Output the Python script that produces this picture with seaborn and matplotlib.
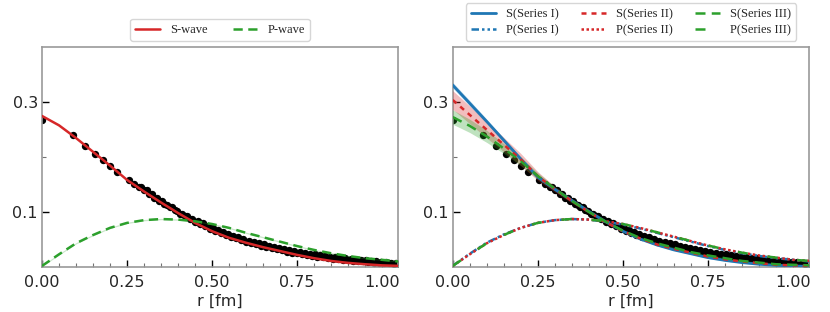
import numpy as np
import pandas as pd
import matplotlib
matplotlib.use("Agg")
import matplotlib.pyplot as plt
import seaborn as sns
from matplotlib.ticker import MultipleLocator, FormatStrFormatter, FixedLocator

# ---------------- data ----------------
r_grid = [0.00, 0.05, 0.10, 0.15, 0.20, 0.25, 0.30, 0.35, 0.40, 0.45, 0.50,
          0.55, 0.60, 0.65, 0.70, 0.75, 0.80, 0.85, 0.90, 0.95, 1.00, 1.05]

# left panel
s_wave = [0.274, 0.257, 0.234, 0.209, 0.184, 0.158, 0.137, 0.117, 0.098, 0.080, 0.065,
          0.053, 0.044, 0.036, 0.029, 0.022, 0.016, 0.011, 0.0075, 0.005, 0.003, 0.002]
p_wave = [0.002, 0.023, 0.043, 0.058, 0.071, 0.080, 0.085, 0.087, 0.086, 0.083, 0.078,
          0.071, 0.062, 0.054, 0.046, 0.038, 0.031, 0.025, 0.020, 0.016, 0.013, 0.010]

# right panel, S-wave
s_series1 = [0.330, 0.297, 0.264, 0.230, 0.196, 0.163, 0.141, 0.121, 0.101, 0.082, 0.065,
             0.051, 0.040, 0.031, 0.024, 0.017, 0.012, 0.008, 0.005, 0.003, 0.002, 0.001]
s_series1_err = [0.005, 0.005, 0.004, 0.004, 0.003, 0.003, 0.002, 0.002, 0.002, 0.001, 0.001,
                 0.001, 0.001, 0.001, 0.001, 0.001, 0.001, 0.001, 0.001, 0.001, 0.001, 0.001]
s_series2 = [0.303, 0.276, 0.249, 0.222, 0.195, 0.165, 0.141, 0.120, 0.100, 0.081, 0.065,
             0.052, 0.041, 0.033, 0.026, 0.019, 0.014, 0.010, 0.007, 0.004, 0.003, 0.002]
s_series2_err = [0.017, 0.016, 0.015, 0.013, 0.011, 0.008, 0.005, 0.004, 0.003, 0.002, 0.002,
                 0.001, 0.001, 0.001, 0.001, 0.001, 0.001, 0.001, 0.001, 0.001, 0.001, 0.001]
s_series3 = [0.272, 0.256, 0.237, 0.215, 0.192, 0.165, 0.142, 0.120, 0.100, 0.082, 0.066,
             0.053, 0.043, 0.035, 0.027, 0.021, 0.016, 0.011, 0.008, 0.005, 0.004, 0.003]
s_series3_err = [0.013, 0.012, 0.011, 0.009, 0.008, 0.006, 0.004, 0.003, 0.002, 0.002, 0.001,
                 0.001, 0.001, 0.001, 0.001, 0.001, 0.001, 0.001, 0.001, 0.001, 0.001, 0.001]

# right panel, P-wave
p_series1 = [0.002, 0.024, 0.044, 0.059, 0.071, 0.080, 0.085, 0.087, 0.086, 0.082, 0.077,
             0.070, 0.062, 0.054, 0.046, 0.038, 0.031, 0.025, 0.020, 0.016, 0.013, 0.010]
p_series2 = [0.002, 0.023, 0.043, 0.058, 0.071, 0.080, 0.085, 0.087, 0.086, 0.083, 0.078,
             0.071, 0.063, 0.055, 0.047, 0.039, 0.032, 0.026, 0.021, 0.017, 0.013, 0.011]
p_series3 = [0.002, 0.023, 0.043, 0.058, 0.071, 0.080, 0.085, 0.087, 0.086, 0.083, 0.078,
             0.071, 0.063, 0.055, 0.047, 0.039, 0.032, 0.026, 0.021, 0.017, 0.013, 0.011]

# lattice data points (first set)
r_points = [0.000, 0.090, 0.127, 0.156, 0.180, 0.201, 0.220, 0.255, 0.270,
            0.285, 0.300, 0.315, 0.330, 0.345, 0.360, 0.375, 0.390, 0.405, 0.420,
            0.435, 0.450, 0.465, 0.480, 0.495, 0.510, 0.525, 0.540, 0.555, 0.570,
            0.585, 0.600, 0.615, 0.630, 0.645, 0.660, 0.675, 0.690, 0.705, 0.720,
            0.735, 0.750, 0.765, 0.780, 0.795, 0.810, 0.825, 0.840, 0.855, 0.870,
            0.885, 0.900, 0.915, 0.930, 0.945, 0.960, 0.975, 0.990, 1.005, 1.020,
            1.035, 1.050]
y_points = [0.267, 0.240, 0.220, 0.205, 0.195, 0.183, 0.173, 0.157, 0.151,
            0.146, 0.140, 0.133, 0.126, 0.120, 0.114, 0.108, 0.103, 0.097, 0.092,
            0.087, 0.082, 0.078, 0.074, 0.069, 0.066, 0.062, 0.058, 0.055, 0.052,
            0.049, 0.046, 0.044, 0.041, 0.039, 0.036, 0.034, 0.032, 0.030, 0.028,
            0.026, 0.025, 0.023, 0.022, 0.020, 0.019, 0.018, 0.016, 0.015, 0.014,
            0.013, 0.012, 0.011, 0.010, 0.010, 0.009, 0.008, 0.008, 0.007, 0.007,
            0.006, 0.006]
# lattice data points (second set, off-axis directions)
r_points_b = [0.2925, 0.3075, 0.3225, 0.3375, 0.3525, 0.3675, 0.3825, 0.3975, 0.4125, 0.4275,
              0.4425, 0.4575, 0.4725, 0.4875, 0.5025, 0.5175, 0.5325, 0.5475, 0.5625, 0.5775,
              0.5925, 0.6075, 0.6225, 0.6375, 0.6525, 0.6675, 0.6825, 0.6975, 0.7125, 0.7275,
              0.7425, 0.7575, 0.7725, 0.7875, 0.8025, 0.8175, 0.8325, 0.8475, 0.8625, 0.8775,
              0.8925, 0.9075, 0.9225, 0.9375, 0.9525, 0.9675, 0.9825, 0.9975, 1.0125, 1.0275,
              1.0425]
y_points_b = [0.145, 0.139, 0.132, 0.125, 0.119, 0.113, 0.108, 0.102, 0.097, 0.092,
              0.087, 0.083, 0.079, 0.075, 0.071, 0.067, 0.064, 0.060, 0.057, 0.054,
              0.051, 0.048, 0.046, 0.043, 0.041, 0.039, 0.036, 0.034, 0.032, 0.030,
              0.029, 0.027, 0.026, 0.024, 0.023, 0.021, 0.020, 0.019, 0.018, 0.017,
              0.016, 0.014, 0.013, 0.012, 0.012, 0.011, 0.010, 0.009, 0.009, 0.008,
              0.008]

x_ticks = [0.00, 0.25, 0.50, 0.75, 1.00]
y_ticks = [0.1, 0.3]
x_label = "r [fm]"

# ---------------- style ----------------
sns.set_theme(style="ticks")
plt.rcParams["font.family"] = ["DejaVu Sans"]

BLUE, RED, GREEN = "#1f77b4", "#d62728", "#2ca02c"

fig = plt.figure(figsize=(8.3, 3.12), dpi=100)
axL = fig.add_axes([42 / 830, 45 / 312, 356 / 830, 220.5 / 312])
axR = fig.add_axes([452.7 / 830, 45 / 312, 356.3 / 830, 220.5 / 312])

dots = pd.DataFrame({"r": r_points + r_points_b, "y": y_points + y_points_b})


def draw_dots(ax):
    sns.scatterplot(data=dots, x="r", y="y", ax=ax, color="black", s=28,
                    edgecolor="black", linewidth=0, zorder=2, legend=False)


# ---- left panel ----
draw_dots(axL)
axL.fill_between(r_grid, np.array(p_wave) - 0.0012, np.array(p_wave) + 0.0012,
                 color=GREEN, alpha=0.25, lw=0, zorder=3)
sns.lineplot(x=r_grid, y=s_wave, ax=axL, color=RED, lw=1.8, zorder=4)
sns.lineplot(x=r_grid, y=p_wave, ax=axL, color=GREEN, lw=1.8,
             linestyle=(0, (3.7, 2.2)), zorder=4)
hL = [plt.Line2D([], [], color=RED, lw=1.8),
      plt.Line2D([], [], color=GREEN, lw=1.8, linestyle=(0, (3.7, 2.2)))]
axL.legend(hL, ["S-wave", "P-wave"], ncol=2, loc="lower center",
           bbox_to_anchor=(0.5, 1.025), prop={"family": "Liberation Serif", "size": 9},
           frameon=True, borderaxespad=0)

# ---- right panel ----
draw_dots(axR)
for s, e, c in [(s_series1, s_series1_err, BLUE), (s_series2, s_series2_err, RED),
                (s_series3, s_series3_err, GREEN)]:
    axR.fill_between(r_grid, np.array(s) - np.array(e), np.array(s) + np.array(e),
                     color=c, alpha=0.3, lw=0, zorder=3)

styles = {
    "S(Series I)": (s_series1, BLUE, "-", 2.0),
    "P(Series I)": (p_series1, BLUE, (0, (3, 1.2, 1, 1.2, 1, 1.2)), 1.8),
    "S(Series II)": (s_series2, RED, (0, (2, 2)), 1.8),
    "P(Series II)": (p_series2, RED, (0, (1, 1)), 1.8),
    "S(Series III)": (s_series3, GREEN, (0, (4, 2.5)), 1.8),
    "P(Series III)": (p_series3, GREEN, (0, (4, 8)), 1.8),
}
handles = []
for name, (vals, c, ls, lw) in styles.items():
    sns.lineplot(x=r_grid, y=vals, ax=axR, color=c, linestyle=ls, lw=lw, zorder=4)
    handles.append(plt.Line2D([], [], color=c, linestyle=ls, lw=lw))
axR.legend(handles, list(styles.keys()), ncol=3, loc="lower center",
           bbox_to_anchor=(0.5, 1.025), prop={"family": "Liberation Serif", "size": 9},
           frameon=True, borderaxespad=0, labelspacing=0.3, columnspacing=1.8)

for ax in (axL, axR):
    ax.set_xlim(0, 1.047)
    ax.set_ylim(0, 0.4)
    ax.xaxis.set_major_locator(FixedLocator(x_ticks))
    ax.xaxis.set_minor_locator(MultipleLocator(0.05))
    ax.xaxis.set_major_formatter(FormatStrFormatter("%.2f"))
    ax.yaxis.set_major_locator(FixedLocator(y_ticks))
    ax.yaxis.set_minor_locator(FixedLocator([0.2]))
    ax.yaxis.set_major_formatter(FormatStrFormatter("%.1f"))
    ax.tick_params(which="major", direction="in", length=5, width=1, color="black",
                   labelsize=11.5, pad=6)
    ax.tick_params(which="minor", direction="in", length=3, width=0.8, color="0.45")
    ax.tick_params(axis="y", which="major", pad=3)
    for sp in ax.spines.values():
        sp.set_visible(True)
        sp.set_color("0.6")
        sp.set_linewidth(1.2)
    ax.set_xlabel(x_label, fontsize=11.5, labelpad=2.5)
    ax.set_ylabel("")

fig.savefig("out.png", dpi=100)
